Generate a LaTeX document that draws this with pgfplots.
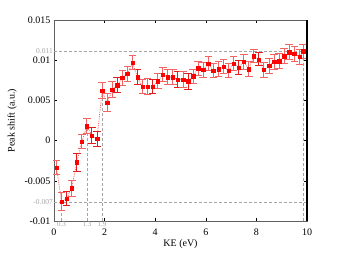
\documentclass[border=0pt]{standalone}
\usepackage{fontspec}
\setmainfont{Liberation Serif}
\usepackage{pgfplots}
\pgfplotsset{compat=1.18}
\usepackage{pgfplotstable}
\definecolor{lightbar}{RGB}{242,100,100}
\definecolor{strongbar}{RGB}{228,28,28}
\definecolor{refgray}{RGB}{165,165,165}

\pgfplotstableread{
x y e
0.1 -0.0034 0.00087
0.3 -0.0076 0.0011
0.7 -0.0059 0.0010
1.1 -0.0001 0.0009
1.3 0.0018 0.0009
1.9 0.0062 0.0010
2.1 0.0047 0.0011
2.3 0.0063 0.0010
2.7 0.0078 0.0009
2.9 0.0083 0.0009
3.1 0.0097 0.0009
3.5 0.0067 0.0009
3.7 0.0067 0.0010
4.1 0.0074 0.0009
4.3 0.0082 0.0009
4.5 0.0079 0.0009
4.7 0.0079 0.0009
5.1 0.0076 0.0010
5.5 0.0080 0.0009
5.7 0.0090 0.0009
5.9 0.0088 0.0009
6.1 0.0096 0.0009
6.3 0.0087 0.0009
6.5 0.0089 0.0009
6.7 0.0092 0.0009
6.9 0.0087 0.0009
7.1 0.0096 0.0009
7.5 0.0098 0.0009
7.7 0.0089 0.0009
7.9 0.0105 0.0008
8.3 0.0088 0.0009
8.5 0.0093 0.0009
8.7 0.0098 0.0009
8.9 0.0099 0.0009
9.1 0.0105 0.0009
9.3 0.0110 0.0009
9.5 0.0108 0.0009
9.7 0.0104 0.0009
9.85 0.0111 0.0009
}\lightdata

\pgfplotstableread{
x y e
0.5 -0.0072 0.0009
0.9 -0.0027 0.0011
1.5 0.0006 0.0010
1.7 0.0002 0.0009
2.5 0.0069 0.0009
3.3 0.0079 0.0009
3.9 0.0067 0.0009
4.9 0.0076 0.0010
5.3 0.0074 0.0010
7.3 0.0091 0.0009
8.1 0.0101 0.0008
}\darkdata

\pgfplotstableread{
x y
0.1 -0.0034
0.3 -0.0076
0.5 -0.0072
0.7 -0.0059
0.9 -0.0027
1.1 -0.0001
1.3 0.0018
1.5 0.0006
1.7 0.0002
1.9 0.0062
2.1 0.0047
2.3 0.0063
2.5 0.0069
2.7 0.0078
2.9 0.0083
3.1 0.0097
3.3 0.0079
3.5 0.0067
3.7 0.0067
3.9 0.0067
4.1 0.0074
4.3 0.0082
4.5 0.0079
4.7 0.0079
4.9 0.0076
5.1 0.0076
5.3 0.0074
5.5 0.0080
5.7 0.0090
5.9 0.0088
6.1 0.0096
6.3 0.0087
6.5 0.0089
6.7 0.0092
6.9 0.0087
7.1 0.0096
7.3 0.0091
7.5 0.0098
7.7 0.0089
7.9 0.0105
8.1 0.0101
8.3 0.0088
8.5 0.0093
8.7 0.0098
8.9 0.0099
9.1 0.0105
9.3 0.0110
9.5 0.0108
9.7 0.0104
9.85 0.0111
}\alldata

\begin{document}
\begin{tikzpicture}
\begin{axis}[
  at={(0pt,0pt)}, anchor=south west,
  scale only axis, width=253pt, height=201pt,
  xmin=0, xmax=10, ymin=-0.01, ymax=0.015,
  xtick={0,2,4,6,8,10}, xticklabels={0,2,4,6,8,10},
  ytick={-0.01,-0.005,0,0.005,0.01,0.015},
  yticklabels={-0.01,-0.005,0,0.005,0.01,0.015},
  scaled y ticks=false,
  tick align=inside, major tick length=3pt,
  tick style={black, thin},
  axis line style={gray!75!black, thin},
  tick label style={font=\fontsize{10}{11}\selectfont},
  xticklabel style={yshift=-4pt},
  label style={font=\fontsize{10}{11}\selectfont},
  xlabel={KE (eV)}, ylabel={Peak shift (a.u.)},
  xlabel style={yshift=3pt},
  ylabel style={yshift=1pt},
  clip=false,
]
% reference lines
\draw[refgray, densely dashed, thin] (axis cs:0,0.0111) -- (axis cs:10,0.0111);
\draw[refgray, densely dashed, thin] (axis cs:0,-0.0076) -- (axis cs:10,-0.0076);
\draw[refgray, densely dashed, thin] (axis cs:0.3,-0.01) -- (axis cs:0.3,-0.0076);
\draw[refgray, densely dashed, thin] (axis cs:1.3,-0.01) -- (axis cs:1.3,0.0018);
\draw[refgray, densely dashed, thin] (axis cs:1.9,-0.01) -- (axis cs:1.9,0.0062);
\draw[refgray, densely dashed, thin] (axis cs:9.85,-0.01) -- (axis cs:9.85,0.0111);
\node[refgray, anchor=east, font=\fontsize{7.5}{8}\selectfont, inner sep=1pt] at (axis cs:0,0.0111) {0.011};
\node[refgray, anchor=east, font=\fontsize{7.5}{8}\selectfont, inner sep=1pt] at (axis cs:0,-0.0076) {-0.007};
\node[refgray, anchor=north, font=\fontsize{7}{7.5}\selectfont, inner sep=0.5pt] at (axis cs:0.3,-0.01) {0.3};
\node[refgray, anchor=north, font=\fontsize{7}{7.5}\selectfont, inner sep=0.5pt] at (axis cs:1.3,-0.01) {1.3};
\node[refgray, anchor=north, font=\fontsize{7}{7.5}\selectfont, inner sep=0.5pt] at (axis cs:1.9,-0.01) {1.9};
% dotted connecting line
\addplot[lightbar, densely dotted, line width=0.8pt, no marks] table[x=x,y=y] {\alldata};
% dark error bars (as plain plot error bars)
\addplot[strongbar, only marks, mark=square*, mark size=1.7pt,
  mark options={fill=red, draw=red},
  error bars/.cd, y dir=both, y explicit,
  error bar style={line width=1pt},
  error mark options={rotate=90, mark size=3.8pt, line width=1pt}]
  table[x=x,y=y,y error=e] {\darkdata};
% light error bars
\addplot[lightbar, only marks, mark=square*, mark size=1.7pt,
  mark options={fill=red, draw=red},
  error bars/.cd, y dir=both, y explicit,
  error bar style={line width=1pt},
  error mark options={rotate=90, mark size=3.8pt, line width=1pt}]
  table[x=x,y=y,y error=e] {\lightdata};
\draw[black, line width=1.1pt] (rel axis cs:1,0) -- (rel axis cs:1,1);
\end{axis}
\pgfresetboundingbox
\useasboundingbox (-54pt,-34pt) rectangle (286pt,221pt);
\end{tikzpicture}
\end{document}
